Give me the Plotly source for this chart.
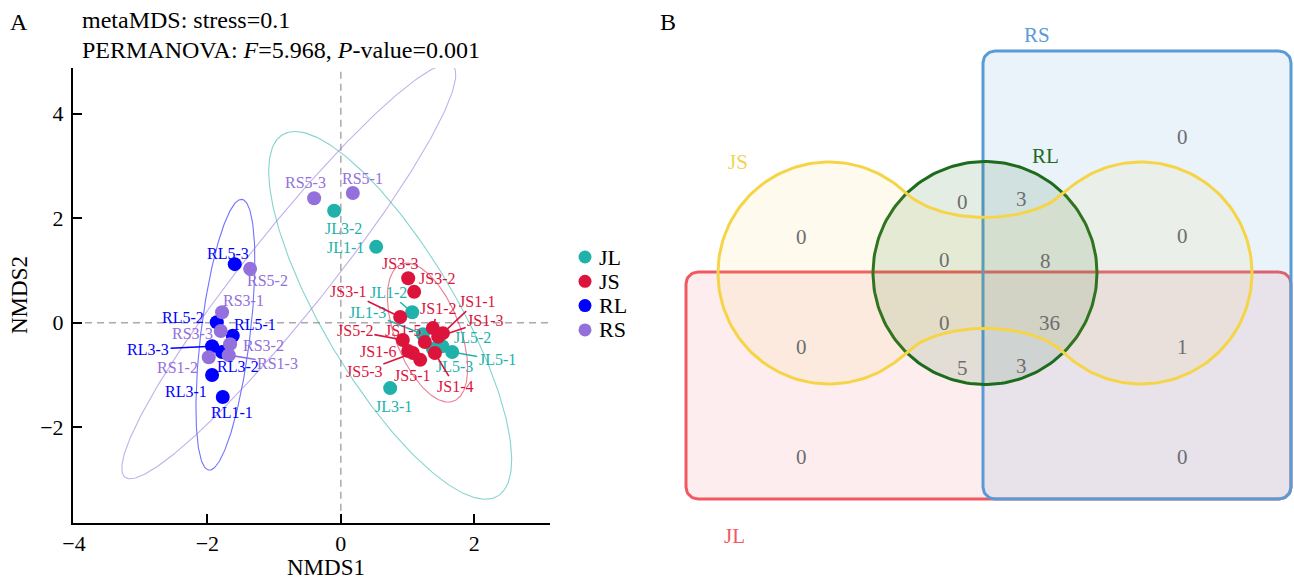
import numpy as np
import plotly.graph_objects as go

# ---------------- data: NMDS samples ----------------
groups = ["JL", "JS", "RL", "RS"]
colors = {"JL": "#20B2AA", "JS": "#DC143C", "RL": "#0000FF", "RS": "#9370DB"}

JL_names = ["JL3-2", "JL1-1", "JL1-2", "JL1-3", "JL5-2", "JL5-3", "JL5-1", "JL3-1"]
JL_x = [-0.10, 0.53, 1.07, 1.23, 1.52, 1.38, 1.67, 0.74]
JL_y = [2.14, 1.45, 0.20, -0.22, -0.45, -0.50, -0.56, -1.25]

JS_names = ["JS3-3", "JS3-2", "JS3-1", "JS1-2", "JS1-1", "JS1-3", "JS5-2", "JS1-5",
            "JS1-6", "JS5-3", "JS5-1", "JS1-4"]
JS_x = [1.01, 1.10, 0.89, 1.38, 1.53, 1.46, 0.93, 1.26, 1.01, 1.08, 1.19, 1.41]
JS_y = [0.85, 0.59, 0.11, -0.10, -0.20, -0.27, -0.33, -0.37, -0.54, -0.58, -0.71, -0.58]

RL_names = ["RL5-3", "RL5-2", "RL5-1", "RL3-3", "RL3-2", "RL3-1", "RL1-1"]
RL_x = [-1.59, -1.86, -1.62, -1.93, -1.78, -1.93, -1.77]
RL_y = [1.12, 0.01, -0.25, -0.45, -0.56, -1.00, -1.42]

RS_names = ["RS5-3", "RS5-1", "RS5-2", "RS3-1", "RS3-3", "RS3-2", "RS1-3", "RS1-2"]
RS_x = [-0.40, 0.18, -1.36, -1.78, -1.80, -1.66, -1.68, -1.98]
RS_y = [2.38, 2.48, 1.03, 0.20, -0.16, -0.41, -0.62, -0.66]

# confidence ellipses: centre x, centre y, semi-major, semi-minor, angle (deg)
ell_cx = {"JL": 0.74, "JS": 1.30, "RL": -1.73, "RS": -0.78}
ell_cy = {"JL": 0.14, "JS": -0.19, "RL": -0.23, "RS": 0.98}
ell_a = {"JL": 3.82, "JS": 1.37, "RL": 2.60, "RS": 4.64}
ell_b = {"JL": 1.04, "JS": 0.50, "RL": 0.37, "RS": 0.67}
ell_ang = {"JL": -66.0, "JS": -74.8, "RL": 84.6, "RS": 58.3}

stress_text = "metaMDS: stress=0.1"
perm_text = "PERMANOVA: <i>F</i>=5.968, <i>P</i>-value=0.001"

# ---------------- data: Venn counts ----------------
venn_sets = ["RS", "JS", "RL", "JL"]
venn_counts = [0, 0, 0, 3, 0, 0, 8, 0, 36, 0, 1, 5, 3, 0, 0]
# layout positions of the counts (pixel space of panel B)
venn_pos = [(1182, 137), (802, 237), (963, 202), (1022, 199), (1182, 236),
            (945, 260), (1045, 261), (945, 323), (1049, 323), (802, 347),
            (1182, 347), (963, 368), (1022, 366), (802, 457), (1182, 457)]

# label offsets (px, dx right, dy down, connector)
lab = {
    "JL3-2": (9, 18, 0), "JL1-1": (-31, 1, 0), "JL1-2": (-24, -20, 1), "JL1-3": (-55, -22, 1),
    "JL5-2": (30, -9, 0), "JL5-3": (22, 18, 0), "JL5-1": (45, 8, 1), "JL3-1": (3, 18, 0),
    "JS3-3": (-8, -15, 0), "JS3-2": (23, -13, 0), "JS3-1": (-52, -25, 1), "JS1-2": (5, -19, 1),
    "JS1-1": (34, -32, 1), "JS1-3": (47, -16, 1), "JS5-2": (-48, -9, 1), "JS1-5": (-22, -12, 0),
    "JS1-6": (-30, 1, 0), "JS5-3": (-49, 18, 1), "JS5-1": (-8, 16, 0), "JS1-4": (20, 33, 1),
    "RL5-3": (-7, -11, 0), "RL5-2": (-34, -5, 0), "RL5-1": (22, -11, 0), "RL3-3": (-64, 3, 1),
    "RL3-2": (16, 15, 0), "RL3-1": (-26, 16, 0), "RL1-1": (9, 16, 0),
    "RS5-3": (-9, -16, 0), "RS5-1": (10, -15, 0), "RS5-2": (17, 12, 0), "RS3-1": (21, -12, 0),
    "RS3-3": (-28, 2, 0), "RS3-2": (33, 1, 0), "RS1-3": (49, 8, 1), "RS1-2": (-31, 10, 0),
}

SERIF = "Liberation Serif, Times New Roman, serif"
W, H = 1294, 581

fig = go.Figure()

# ---------- ellipses ----------
t = np.linspace(0, 2 * np.pi, 300)
for g in groups:
    th = np.radians(ell_ang[g])
    a, b = ell_a[g], ell_b[g]
    ex = ell_cx[g] + a * np.cos(t) * np.cos(th) - b * np.sin(t) * np.sin(th)
    ey = ell_cy[g] + a * np.cos(t) * np.sin(th) + b * np.sin(t) * np.cos(th)
    fig.add_trace(go.Scatter(x=ex, y=ey, mode="lines", line=dict(color=colors[g], width=1.1),
                             opacity=0.55, showlegend=False, hoverinfo="skip",
                             xaxis="x", yaxis="y"))

# ---------- points ----------
data = {
    "JL": (JL_names, JL_x, JL_y),
    "JS": (JS_names, JS_x, JS_y),
    "RL": (RL_names, RL_x, RL_y),
    "RS": (RS_names, RS_x, RS_y),
}
annotations = []
shapes = []
for g in groups:
    names, xs, ys = data[g]
    fig.add_trace(go.Scatter(x=xs, y=ys, mode="markers", name=g, text=names,
                             marker=dict(color=colors[g], size=14), showlegend=False,
                             xaxis="x", yaxis="y"))
    for n, xv, yv in zip(names, xs, ys):
        dx, dy, con = lab[n]
        if con:
            annotations.append(dict(x=xv, y=yv, xref="x", yref="y", text=n, showarrow=True,
                                    ax=dx, ay=dy, arrowhead=0, arrowwidth=1.6,
                                    arrowcolor=colors[g], standoff=0,
                                    font=dict(family=SERIF, size=16, color=colors[g])))
        else:
            annotations.append(dict(x=xv, y=yv, xref="x", yref="y", text=n, showarrow=False,
                                    xshift=dx, yshift=-dy,
                                    font=dict(family=SERIF, size=16, color=colors[g])))

# dashed zero lines
shapes += [
    dict(type="line", xref="x", yref="y domain", x0=0, x1=0, y0=0, y1=1,
         line=dict(color="#aaaaaa", width=1.5, dash="7px,5px"), layer="below"),
    dict(type="line", xref="x domain", yref="y", x0=0, x1=1, y0=0, y1=0,
         line=dict(color="#aaaaaa", width=1.5, dash="7px,5px"), layer="below"),
]

# ---------- manual legend (layout) ----------
LEG_X, LEG_Y, LEG_DY, LEG_R = 585, 257, 24.3, 6.5
for i, g in enumerate(groups):
    cy = LEG_Y + i * LEG_DY
    shapes.append(dict(type="circle", xref="paper", yref="paper",
                       x0=(LEG_X - LEG_R) / W, x1=(LEG_X + LEG_R) / W,
                       y0=1 - (cy + LEG_R) / H, y1=1 - (cy - LEG_R) / H,
                       fillcolor=colors[g], line=dict(width=0)))
    annotations.append(dict(x=(LEG_X + 12) / W, y=1 - cy / H, xref="paper", yref="paper",
                            text=g, showarrow=False, xanchor="left", yanchor="middle",
                            font=dict(family=SERIF, size=22, color="black")))

# ---------- Venn (panel B) ----------
def rrect(x0, y0, x1, y1, r, n=12):
    pts = []
    corners = [(x1 - r, y0 + r, -90, 0), (x1 - r, y1 - r, 0, 90),
               (x0 + r, y1 - r, 90, 180), (x0 + r, y0 + r, 180, 270)]
    for cx, cy, a0, a1 in corners:
        aa = np.radians(np.linspace(a0, a1, n))
        for v in aa:
            pts.append((cx + r * np.cos(v), cy + r * np.sin(v)))
    pts.append(pts[0])
    return [p[0] for p in pts], [p[1] for p in pts]

def bez(p0, p1, p2, p3, n=40):
    s = np.linspace(0, 1, n)
    xs = (1 - s) ** 3 * p0[0] + 3 * (1 - s) ** 2 * s * p1[0] + 3 * (1 - s) * s ** 2 * p2[0] + s ** 3 * p3[0]
    ys = (1 - s) ** 3 * p0[1] + 3 * (1 - s) ** 2 * s * p1[1] + 3 * (1 - s) * s ** 2 * p2[1] + s ** 3 * p3[1]
    return list(xs), list(ys)

MX, CY, R, OFF = 985.0, 273.0, 111.0, 156.0
lx, rx_ = MX - OFF, MX + OFF
ang_top_l, ang_bot_l = -46.4, 45.7
jsx, jsy = [], []
phi = np.radians(np.linspace(ang_top_l, ang_bot_l - 360, 120))
jsx += list(lx + R * np.cos(phi)); jsy += list(CY + R * np.sin(phi))
p0 = (jsx[-1], jsy[-1]); p3 = (2 * MX - p0[0], p0[1])
bx, by = bez(p0, (p0[0] + 33, p0[1] - 32), (p3[0] - 33, p3[1] - 32), p3)
jsx += bx; jsy += by
phi = np.radians(np.linspace(180 - ang_bot_l, 180 - ang_top_l - 360, 120))
jsx += list(rx_ + R * np.cos(phi)); jsy += list(CY + R * np.sin(phi))
q0 = (jsx[-1], jsy[-1]); q3 = (jsx[0], jsy[0])
bx, by = bez(q0, (q0[0] - 35, q0[1] + 33), (q3[0] + 35, q3[1] + 33), q3)
jsx += bx; jsy += by

tt = np.linspace(0, 2 * np.pi, 200)
rlx = list(MX + 112 * np.cos(tt)); rly = list(CY + 111.5 * np.sin(tt))

jlx, jly = rrect(686, 272, 1291, 499, 12)
rsx, rsy = rrect(983, 51, 1291, 499, 12)

venn_shapes = [
    ("JL", jlx, jly, "#ef5a62", "rgba(239,90,98,0.11)"),
    ("RS", rsx, rsy, "#5b9bd5", "rgba(91,155,213,0.13)"),
    ("RL", rlx, rly, "#1d6b1d", "rgba(29,107,29,0.12)"),
    ("JS", jsx, jsy, "#f5d547", "rgba(245,213,71,0.09)"),
]
for nm, vx, vy, lc, fc in venn_shapes:
    fig.add_trace(go.Scatter(x=vx, y=vy, mode="lines", fill="toself", fillcolor=fc,
                             line=dict(color=lc, width=3), showlegend=False,
                             hoverinfo="skip", xaxis="x2", yaxis="y2"))

for c, (px, py) in zip(venn_counts, venn_pos):
    annotations.append(dict(x=px, y=py, xref="x2", yref="y2", text=str(c), showarrow=False,
                            font=dict(family=SERIF, size=21, color="#6e6e6e")))

venn_label_pos = {"RS": (1037, 35), "JS": (738, 162), "RL": (1045, 156), "JL": (735, 536)}
venn_label_col = {"RS": "#5b9bd5", "JS": "#f2d458", "RL": "#1d6b1d", "JL": "#ef5a62"}
for s in venn_sets:
    px, py = venn_label_pos[s]
    annotations.append(dict(x=px, y=py, xref="x2", yref="y2", text=s, showarrow=False,
                            font=dict(family=SERIF, size=21, color=venn_label_col[s])))

# ---------- texts ----------
def paper(px, py):
    return px / W, 1 - py / H

for txt, (px, py), anc in [("A", (19, 22), "center"), ("B", (668, 22), "center"),
                           (stress_text, (80, 20), "left"), (perm_text, (80, 50), "left")]:
    x, y = paper(px, py)
    annotations.append(dict(x=x, y=y, xref="paper", yref="paper", text=txt, showarrow=False,
                            xanchor=anc, yanchor="middle",
                            font=dict(family=SERIF, size=24, color="black")))
x, y = paper(326, 567)
annotations.append(dict(x=x, y=y, xref="paper", yref="paper", text="NMDS1", showarrow=False,
                        xanchor="center", yanchor="middle",
                        font=dict(family=SERIF, size=23, color="black")))
x, y = paper(19, 295)
annotations.append(dict(x=x, y=y, xref="paper", yref="paper", text="NMDS2", showarrow=False,
                        textangle=-90, xanchor="center", yanchor="middle",
                        font=dict(family=SERIF, size=23, color="black")))

axis_common = dict(showgrid=False, zeroline=False, showline=True, linecolor="black",
                   linewidth=2, ticks="inside", ticklen=9, tickwidth=1.5, tickcolor="black",
                   automargin=False,
                   tickfont=dict(family=SERIF, size=22, color="black"))

fig.update_layout(
    template="none",
    width=W, height=H, margin=dict(l=0, r=0, t=0, b=0, pad=0),
    paper_bgcolor="white", plot_bgcolor="white",
    xaxis=dict(domain=[73 / W, 550 / W], range=[-4.015, 3.136], tickvals=[-4, -2, 0, 2],
               ticklabelstandoff=0, anchor="y", **axis_common),
    yaxis=dict(domain=[1 - 522.7 / H, 1 - 68 / H], range=[-3.824, 4.87],
               tickvals=[-2, 0, 2, 4], ticklabelstandoff=3, anchor="x", **axis_common),
    xaxis2=dict(domain=[660 / W, 1.0], range=[660, 1294], visible=False, anchor="y2",
                automargin=False),
    yaxis2=dict(domain=[0, 1], range=[581, 0], visible=False, anchor="x2", automargin=False),
    shapes=shapes, annotations=annotations, showlegend=False,
)

fig.write_html("out.html")
